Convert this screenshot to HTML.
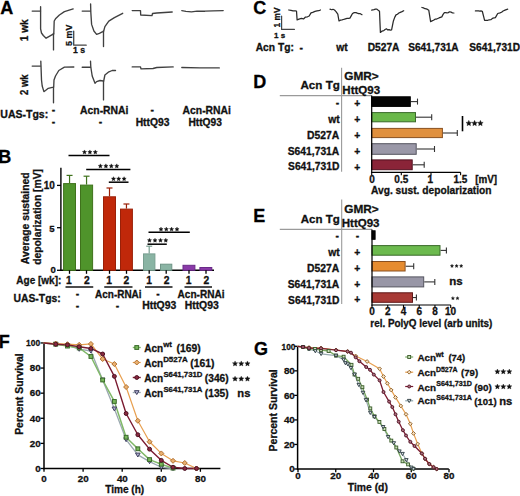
<!DOCTYPE html>
<html><head><meta charset="utf-8"><style>
html,body{margin:0;padding:0;background:#fff;width:520px;height:496px;overflow:hidden}
svg{display:block;font-family:"Liberation Sans",sans-serif}
</style></head><body>
<svg width="520" height="496" viewBox="0 0 520 496">
<rect width="520" height="496" fill="#fff"/>
<text transform="translate(0.32,13.90) scale(1.000,1)" font-size="18" font-weight="bold" fill="#000" stroke="#000" stroke-width="0.3" >A</text>
<text transform="translate(27.60,41.31) rotate(-90) scale(0.994,1)" font-size="10.2" font-weight="bold" fill="#111" stroke="#111" stroke-width="0.3">1 wk</text>
<text transform="translate(27.60,94.98) rotate(-90) scale(0.934,1)" font-size="10.2" font-weight="bold" fill="#111" stroke="#111" stroke-width="0.3">2 wk</text>
<polyline points="32.20,11.10 40.50,11.10" fill="none" stroke="#404040" stroke-width="1.35" stroke-linejoin="round" stroke-linecap="round" />
<polyline points="40.60,6.70 40.60,28.80 41.50,33.00 43.30,35.50 46.10,38.20 48.80,36.60 52.70,34.40 53.50,33.30 53.50,49.90" fill="none" stroke="#404040" stroke-width="1.35" stroke-linejoin="round" stroke-linecap="round" />
<polyline points="53.80,34.00 54.20,21.00 55.50,18.80 59.40,15.00 64.40,11.60 73.20,8.90" fill="none" stroke="#404040" stroke-width="1.35" stroke-linejoin="round" stroke-linecap="round" />
<polyline points="82.20,11.10 90.50,11.10" fill="none" stroke="#404040" stroke-width="1.35" stroke-linejoin="round" stroke-linecap="round" />
<polyline points="90.60,3.90 90.80,12.00 91.60,24.40 93.90,31.00 96.60,34.40 99.40,33.30 102.70,31.60 103.50,31.00 103.50,46.60" fill="none" stroke="#404040" stroke-width="1.35" stroke-linejoin="round" stroke-linecap="round" />
<polyline points="103.70,31.00 104.90,26.60 108.80,21.10 114.40,17.70 122.70,13.30" fill="none" stroke="#404040" stroke-width="1.35" stroke-linejoin="round" stroke-linecap="round" />
<polyline points="132.20,10.60 140.50,10.60 140.70,15.00 152.00,15.60 152.50,13.50 156.80,13.00 172.20,12.00" fill="none" stroke="#404040" stroke-width="1.35" stroke-linejoin="round" stroke-linecap="round" />
<polyline points="181.80,10.60 186.00,11.30 191.50,11.90 197.00,11.20 205.00,11.20 213.00,10.80 223.20,10.60" fill="none" stroke="#404040" stroke-width="1.35" stroke-linejoin="round" stroke-linecap="round" />
<polyline points="32.20,66.10 40.50,66.10" fill="none" stroke="#404040" stroke-width="1.35" stroke-linejoin="round" stroke-linecap="round" />
<polyline points="40.80,61.10 41.00,66.00 41.50,80.00 42.20,86.00 43.90,91.60 45.50,90.50 48.30,88.30 53.30,87.20 53.50,87.00 53.50,102.70" fill="none" stroke="#404040" stroke-width="1.35" stroke-linejoin="round" stroke-linecap="round" />
<polyline points="53.70,87.00 54.00,80.00 55.50,76.00 58.80,70.50 64.40,67.20 73.80,67.00" fill="none" stroke="#404040" stroke-width="1.35" stroke-linejoin="round" stroke-linecap="round" />
<polyline points="82.20,67.20 90.50,67.20" fill="none" stroke="#404040" stroke-width="1.35" stroke-linejoin="round" stroke-linecap="round" />
<polyline points="90.50,61.10 90.80,67.00 92.20,76.00 95.00,83.30 96.60,81.60 100.00,80.50 103.30,81.00 103.50,81.00 103.50,99.90" fill="none" stroke="#404040" stroke-width="1.35" stroke-linejoin="round" stroke-linecap="round" />
<polyline points="103.70,81.00 104.90,75.00 108.30,72.20 112.20,70.50 115.50,70.50" fill="none" stroke="#404040" stroke-width="1.35" stroke-linejoin="round" stroke-linecap="round" />
<polyline points="132.20,66.90 140.50,66.90 141.00,68.80 153.00,68.50 156.80,67.50 173.20,66.90" fill="none" stroke="#404040" stroke-width="1.35" stroke-linejoin="round" stroke-linecap="round" />
<polyline points="181.80,67.50 200.00,67.80 219.30,67.90" fill="none" stroke="#404040" stroke-width="1.35" stroke-linejoin="round" stroke-linecap="round" />
<polyline points="73.70,31.10 73.70,45.20 86.20,45.20" fill="none" stroke="#444" stroke-width="1.3" stroke-linejoin="round" stroke-linecap="round" />
<text transform="translate(72.20,45.92) rotate(-90) scale(0.959,1)" font-size="9.3" font-weight="bold" fill="#111" stroke="#111" stroke-width="0.3">5 mV</text>
<text transform="translate(73.07,52.60) scale(1.000,1)" font-size="8.6" font-weight="bold" fill="#111" stroke="#111" stroke-width="0.3" >1 s</text>
<text transform="translate(0.32,117.80) scale(1.021,1)" font-size="10.3" font-weight="bold" fill="#111" stroke="#111" stroke-width="0.3" >UAS-Tgs:</text>
<text transform="translate(51.67,113.28) scale(1.000,1)" font-size="10.3" font-weight="bold" fill="#111" stroke="#111" stroke-width="0.3">-</text>
<text transform="translate(51.67,124.58) scale(1.000,1)" font-size="10.3" font-weight="bold" fill="#111" stroke="#111" stroke-width="0.3">-</text>
<text transform="translate(80.09,113.60) scale(1.007,1)" font-size="10.3" font-weight="bold" fill="#111" stroke="#111" stroke-width="0.3" >Acn-RNAi</text>
<text transform="translate(98.87,124.58) scale(1.000,1)" font-size="10.3" font-weight="bold" fill="#111" stroke="#111" stroke-width="0.3">-</text>
<text transform="translate(150.47,112.68) scale(1.000,1)" font-size="10.3" font-weight="bold" fill="#111" stroke="#111" stroke-width="0.3">-</text>
<text transform="translate(135.68,125.60) scale(1.000,1)" font-size="10.3" font-weight="bold" fill="#111" stroke="#111" stroke-width="0.3" >HttQ93</text>
<text transform="translate(182.59,113.60) scale(1.007,1)" font-size="10.3" font-weight="bold" fill="#111" stroke="#111" stroke-width="0.3" >Acn-RNAi</text>
<text transform="translate(188.44,125.60) scale(0.992,1)" font-size="10.3" font-weight="bold" fill="#111" stroke="#111" stroke-width="0.3" >HttQ93</text>
<text transform="translate(253.13,14.40) scale(1.000,1)" font-size="18" font-weight="bold" fill="#000" stroke="#000" stroke-width="0.3" >C</text>
<text transform="translate(279.60,27.39) rotate(-90) scale(0.990,1)" font-size="8.4" font-weight="bold" fill="#111" stroke="#111" stroke-width="0.3">1 mV</text>
<polyline points="281.60,16.10 281.60,29.40 294.40,29.40" fill="none" stroke="#444" stroke-width="1.2" stroke-linejoin="round" stroke-linecap="round" />
<text transform="translate(273.99,37.60) scale(1.000,1)" font-size="8.0" font-weight="bold" fill="#111" stroke="#111" stroke-width="0.3" >1 s</text>
<text transform="translate(255.69,50.50) scale(0.995,1)" font-size="10.3" font-weight="bold" fill="#111" stroke="#111" stroke-width="0.3" >Acn Tg:</text>
<text transform="translate(299.57,51.08) scale(1.000,1)" font-size="10.3" font-weight="bold" fill="#111" stroke="#111" stroke-width="0.3">-</text>
<text transform="translate(336.28,50.60) scale(1.000,1)" font-size="10.3" font-weight="bold" fill="#111" stroke="#111" stroke-width="0.3" >wt</text>
<text transform="translate(367.68,50.60) scale(0.993,1)" font-size="10.3" font-weight="bold" fill="#111" stroke="#111" stroke-width="0.3" >D527A</text>
<text transform="translate(408.15,50.60) scale(0.982,1)" font-size="10.3" font-weight="bold" fill="#111" stroke="#111" stroke-width="0.3" >S641,731A</text>
<text transform="translate(469.25,50.60) scale(0.985,1)" font-size="10.3" font-weight="bold" fill="#111" stroke="#111" stroke-width="0.3" >S641,731D</text>
<polyline points="288.80,10.00 291.00,10.38 293.00,10.89 295.40,10.93 296.50,11.00 297.10,19.89 299.00,19.14 301.40,18.37 303.50,18.92 305.50,17.05 307.50,16.78 309.20,15.97 311.00,12.93 312.70,12.39 315.00,11.45 317.00,10.94 318.75,10.74 320.50,10.00" fill="none" stroke="#2a2a2a" stroke-width="1.25" stroke-linejoin="round" stroke-linecap="round" />
<polyline points="330.00,9.20 331.50,9.74 333.00,9.31 334.50,10.04 336.00,11.57 337.80,14.06 339.00,20.99 340.50,20.09 342.00,19.92 343.35,19.52 344.70,19.09 347.00,18.42 348.45,18.42 349.90,18.08 351.20,15.85 352.50,13.54 354.20,12.59 356.00,12.65 357.30,13.14 358.60,13.55 360.30,13.74 362.00,14.70" fill="none" stroke="#2a2a2a" stroke-width="1.25" stroke-linejoin="round" stroke-linecap="round" />
<polyline points="371.70,10.11 374.00,9.65 375.45,9.16 376.90,9.11 378.20,10.24 379.50,11.20 380.40,32.42 382.10,31.06 383.80,30.67 385.10,29.44 386.40,28.81 387.70,29.90 389.00,29.57 390.30,30.07 391.60,29.77 393.40,20.95 394.70,17.37 396.00,14.85 397.43,14.24 398.87,12.99 400.30,12.37 402.00,11.59 403.70,10.70" fill="none" stroke="#2a2a2a" stroke-width="1.25" stroke-linejoin="round" stroke-linecap="round" />
<polyline points="421.90,7.51 423.45,7.86 425.00,8.69 426.27,8.95 427.53,9.39 428.80,10.29 430.60,21.56 432.05,20.88 433.50,20.29 435.05,19.19 436.60,19.04 439.00,17.95 440.40,17.39 441.80,16.87 443.10,14.39 444.40,12.57 445.70,12.66 447.00,12.84 448.30,12.63 449.60,11.76 451.03,12.19 452.47,12.84 453.90,13.00" fill="none" stroke="#2a2a2a" stroke-width="1.25" stroke-linejoin="round" stroke-linecap="round" />
<polyline points="475.40,10.94 476.95,10.92 478.50,10.82 479.77,11.09 481.03,10.96 482.30,11.26 484.60,20.28 486.05,20.36 487.50,20.49 489.15,19.76 490.80,19.64 493.00,18.07 495.40,17.67 497.70,13.52 500.00,12.85 501.55,12.23 503.10,10.96 505.00,10.19 506.35,9.61 507.70,9.20" fill="none" stroke="#2a2a2a" stroke-width="1.25" stroke-linejoin="round" stroke-linecap="round" />
<text transform="translate(-1.81,163.00) scale(1.000,1)" font-size="18" font-weight="bold" fill="#000" stroke="#000" stroke-width="0.3" >B</text>
<text transform="translate(29.30,264.21) rotate(-90) scale(1.008,1)" font-size="10.3" font-weight="bold" fill="#111" stroke="#111" stroke-width="0.3">Average sustained</text>
<text transform="translate(40.80,264.86) rotate(-90) scale(1.005,1)" font-size="10.3" font-weight="bold" fill="#111" stroke="#111" stroke-width="0.3">depolarization [mV]</text>
<line x1="60.90" y1="167.70" x2="60.90" y2="270.90" stroke="#000" stroke-width="1.4" />
<line x1="60.20" y1="270.30" x2="214.00" y2="270.30" stroke="#000" stroke-width="1.4" />
<line x1="57.00" y1="185.40" x2="60.90" y2="185.40" stroke="#000" stroke-width="1.3" />
<line x1="57.00" y1="227.70" x2="60.90" y2="227.70" stroke="#000" stroke-width="1.3" />
<line x1="57.00" y1="270.30" x2="60.90" y2="270.30" stroke="#000" stroke-width="1.3" />
<text transform="translate(43.67,188.60) scale(1.000,1)" font-size="10.0" font-weight="bold" fill="#111" stroke="#111" stroke-width="0.3" >10</text>
<text transform="translate(49.36,231.60) scale(1.000,1)" font-size="9.6" font-weight="bold" fill="#111" stroke="#111" stroke-width="0.3" >5</text>
<text transform="translate(50.54,273.40) scale(1.000,1)" font-size="9.6" font-weight="bold" fill="#111" stroke="#111" stroke-width="0.3" >0</text>
<line x1="69.55" y1="183.10" x2="69.55" y2="175.40" stroke="#3f721c" stroke-width="1.2" />
<line x1="66.55" y1="175.40" x2="72.55" y2="175.40" stroke="#3f721c" stroke-width="1.2" />
<rect x="63.60" y="183.60" width="11.90" height="86.70" fill="#4f942b" stroke="#3f721c" stroke-width="1"/>
<line x1="86.55" y1="184.60" x2="86.55" y2="176.20" stroke="#3f721c" stroke-width="1.2" />
<line x1="83.55" y1="176.20" x2="89.55" y2="176.20" stroke="#3f721c" stroke-width="1.2" />
<rect x="80.50" y="185.10" width="12.10" height="85.20" fill="#4f942b" stroke="#3f721c" stroke-width="1"/>
<line x1="109.50" y1="196.30" x2="109.50" y2="188.00" stroke="#9a2008" stroke-width="1.2" />
<line x1="106.50" y1="188.00" x2="112.50" y2="188.00" stroke="#9a2008" stroke-width="1.2" />
<rect x="103.50" y="196.80" width="12.00" height="73.50" fill="#c0280a" stroke="#9a2008" stroke-width="1"/>
<line x1="126.45" y1="208.60" x2="126.45" y2="204.00" stroke="#9a2008" stroke-width="1.2" />
<line x1="123.45" y1="204.00" x2="129.45" y2="204.00" stroke="#9a2008" stroke-width="1.2" />
<rect x="120.50" y="209.10" width="11.90" height="61.20" fill="#c0280a" stroke="#9a2008" stroke-width="1"/>
<line x1="149.20" y1="253.40" x2="149.20" y2="246.20" stroke="#789e90" stroke-width="1.2" />
<line x1="146.20" y1="246.20" x2="152.20" y2="246.20" stroke="#789e90" stroke-width="1.2" />
<rect x="143.50" y="253.90" width="11.40" height="16.40" fill="#8ab4a4" stroke="#789e90" stroke-width="1"/>
<rect x="160.50" y="264.20" width="11.30" height="6.10" fill="#8ab4a4" stroke="#6e9486" stroke-width="1"/>
<rect x="183.00" y="265.30" width="11.90" height="5.00" fill="#8a3aa8" stroke="#6a2a88" stroke-width="1"/>
<rect x="199.90" y="267.50" width="11.90" height="2.80" fill="#8a3aa8" stroke="#6a2a88" stroke-width="1"/>
<line x1="69.50" y1="270.30" x2="69.50" y2="273.80" stroke="#000" stroke-width="1.3" />
<line x1="86.50" y1="270.30" x2="86.50" y2="273.80" stroke="#000" stroke-width="1.3" />
<line x1="109.50" y1="270.30" x2="109.50" y2="273.80" stroke="#000" stroke-width="1.3" />
<line x1="126.50" y1="270.30" x2="126.50" y2="273.80" stroke="#000" stroke-width="1.3" />
<line x1="149.20" y1="270.30" x2="149.20" y2="273.80" stroke="#000" stroke-width="1.3" />
<line x1="166.20" y1="270.30" x2="166.20" y2="273.80" stroke="#000" stroke-width="1.3" />
<line x1="189.00" y1="270.30" x2="189.00" y2="273.80" stroke="#000" stroke-width="1.3" />
<line x1="206.00" y1="270.30" x2="206.00" y2="273.80" stroke="#000" stroke-width="1.3" />
<line x1="68.50" y1="155.40" x2="109.50" y2="155.40" stroke="#000" stroke-width="1.5" />
<polygon points="84.50,149.95 85.13,151.33 86.64,151.50 85.53,152.53 85.82,154.02 84.50,153.28 83.18,154.02 83.47,152.53 82.36,151.50 83.87,151.33" fill="#111" stroke="#111" stroke-width="0.35" stroke-linejoin="round"/>
<polygon points="89.90,149.95 90.53,151.33 92.04,151.50 90.93,152.53 91.22,154.02 89.90,153.28 88.58,154.02 88.87,152.53 87.76,151.50 89.27,151.33" fill="#111" stroke="#111" stroke-width="0.35" stroke-linejoin="round"/>
<polygon points="95.30,149.95 95.93,151.33 97.44,151.50 96.33,152.53 96.62,154.02 95.30,153.28 93.98,154.02 94.27,152.53 93.16,151.50 94.67,151.33" fill="#111" stroke="#111" stroke-width="0.35" stroke-linejoin="round"/>
<line x1="86.20" y1="169.50" x2="130.40" y2="169.50" stroke="#000" stroke-width="1.5" />
<polygon points="100.40,163.85 101.03,165.23 102.54,165.40 101.43,166.43 101.72,167.92 100.40,167.18 99.08,167.92 99.37,166.43 98.26,165.40 99.77,165.23" fill="#111" stroke="#111" stroke-width="0.35" stroke-linejoin="round"/>
<polygon points="105.90,163.85 106.53,165.23 108.04,165.40 106.93,166.43 107.22,167.92 105.90,167.18 104.58,167.92 104.87,166.43 103.76,165.40 105.27,165.23" fill="#111" stroke="#111" stroke-width="0.35" stroke-linejoin="round"/>
<polygon points="111.30,163.85 111.93,165.23 113.44,165.40 112.33,166.43 112.62,167.92 111.30,167.18 109.98,167.92 110.27,166.43 109.16,165.40 110.67,165.23" fill="#111" stroke="#111" stroke-width="0.35" stroke-linejoin="round"/>
<polygon points="116.80,163.85 117.43,165.23 118.94,165.40 117.83,166.43 118.12,167.92 116.80,167.18 115.48,167.92 115.77,166.43 114.66,165.40 116.17,165.23" fill="#111" stroke="#111" stroke-width="0.35" stroke-linejoin="round"/>
<line x1="108.80" y1="182.20" x2="128.50" y2="182.20" stroke="#000" stroke-width="1.5" />
<polygon points="113.50,176.65 114.13,178.03 115.64,178.20 114.53,179.23 114.82,180.72 113.50,179.98 112.18,180.72 112.47,179.23 111.36,178.20 112.87,178.03" fill="#111" stroke="#111" stroke-width="0.35" stroke-linejoin="round"/>
<polygon points="118.70,176.65 119.33,178.03 120.84,178.20 119.73,179.23 120.02,180.72 118.70,179.98 117.38,180.72 117.67,179.23 116.56,178.20 118.07,178.03" fill="#111" stroke="#111" stroke-width="0.35" stroke-linejoin="round"/>
<polygon points="124.10,176.65 124.73,178.03 126.24,178.20 125.13,179.23 125.42,180.72 124.10,179.98 122.78,180.72 123.07,179.23 121.96,178.20 123.47,178.03" fill="#111" stroke="#111" stroke-width="0.35" stroke-linejoin="round"/>
<line x1="148.50" y1="232.20" x2="189.80" y2="232.20" stroke="#000" stroke-width="1.5" />
<polygon points="161.00,227.10 161.62,228.45 163.09,228.62 162.00,229.63 162.29,231.08 161.00,230.36 159.71,231.08 160.00,229.63 158.91,228.62 160.38,228.45" fill="#111" stroke="#111" stroke-width="0.35" stroke-linejoin="round"/>
<polygon points="166.30,227.10 166.92,228.45 168.39,228.62 167.30,229.63 167.59,231.08 166.30,230.36 165.01,231.08 165.30,229.63 164.21,228.62 165.68,228.45" fill="#111" stroke="#111" stroke-width="0.35" stroke-linejoin="round"/>
<polygon points="171.60,227.10 172.22,228.45 173.69,228.62 172.60,229.63 172.89,231.08 171.60,230.36 170.31,231.08 170.60,229.63 169.51,228.62 170.98,228.45" fill="#111" stroke="#111" stroke-width="0.35" stroke-linejoin="round"/>
<polygon points="177.00,227.10 177.62,228.45 179.09,228.62 178.00,229.63 178.29,231.08 177.00,230.36 175.71,231.08 176.00,229.63 174.91,228.62 176.38,228.45" fill="#111" stroke="#111" stroke-width="0.35" stroke-linejoin="round"/>
<line x1="147.50" y1="244.20" x2="166.80" y2="244.20" stroke="#000" stroke-width="1.5" />
<polygon points="149.50,238.20 150.12,239.55 151.59,239.72 150.50,240.73 150.79,242.18 149.50,241.46 148.21,242.18 148.50,240.73 147.41,239.72 148.88,239.55" fill="#111" stroke="#111" stroke-width="0.35" stroke-linejoin="round"/>
<polygon points="155.00,238.20 155.62,239.55 157.09,239.72 156.00,240.73 156.29,242.18 155.00,241.46 153.71,242.18 154.00,240.73 152.91,239.72 154.38,239.55" fill="#111" stroke="#111" stroke-width="0.35" stroke-linejoin="round"/>
<polygon points="160.50,238.20 161.12,239.55 162.59,239.72 161.50,240.73 161.79,242.18 160.50,241.46 159.21,242.18 159.50,240.73 158.41,239.72 159.88,239.55" fill="#111" stroke="#111" stroke-width="0.35" stroke-linejoin="round"/>
<polygon points="165.80,238.20 166.42,239.55 167.89,239.72 166.80,240.73 167.09,242.18 165.80,241.46 164.51,242.18 164.80,240.73 163.71,239.72 165.18,239.55" fill="#111" stroke="#111" stroke-width="0.35" stroke-linejoin="round"/>
<text transform="translate(16.35,284.00) scale(0.972,1)" font-size="10.3" font-weight="bold" fill="#111" stroke="#111" stroke-width="0.3" >Age [wk]:</text>
<text transform="translate(66.04,284.05) scale(1.000,1)" font-size="10.3" font-weight="bold" fill="#111" stroke="#111" stroke-width="0.3">1</text>
<text transform="translate(84.07,284.11) scale(1.000,1)" font-size="10.3" font-weight="bold" fill="#111" stroke="#111" stroke-width="0.3">2</text>
<text transform="translate(106.24,284.05) scale(1.000,1)" font-size="10.3" font-weight="bold" fill="#111" stroke="#111" stroke-width="0.3">1</text>
<text transform="translate(123.47,284.11) scale(1.000,1)" font-size="10.3" font-weight="bold" fill="#111" stroke="#111" stroke-width="0.3">2</text>
<text transform="translate(146.34,284.05) scale(1.000,1)" font-size="10.3" font-weight="bold" fill="#111" stroke="#111" stroke-width="0.3">1</text>
<text transform="translate(163.67,284.11) scale(1.000,1)" font-size="10.3" font-weight="bold" fill="#111" stroke="#111" stroke-width="0.3">2</text>
<text transform="translate(185.69,284.05) scale(1.000,1)" font-size="10.3" font-weight="bold" fill="#111" stroke="#111" stroke-width="0.3">1</text>
<text transform="translate(203.42,284.11) scale(1.000,1)" font-size="10.3" font-weight="bold" fill="#111" stroke="#111" stroke-width="0.3">2</text>
<line x1="65.50" y1="287.00" x2="93.25" y2="287.00" stroke="#000" stroke-width="1.4" />
<line x1="104.25" y1="287.00" x2="132.50" y2="287.00" stroke="#000" stroke-width="1.4" />
<line x1="145.00" y1="287.00" x2="172.50" y2="287.00" stroke="#000" stroke-width="1.4" />
<line x1="184.50" y1="287.00" x2="212.00" y2="287.00" stroke="#000" stroke-width="1.4" />
<text transform="translate(13.48,301.80) scale(1.006,1)" font-size="10.3" font-weight="bold" fill="#111" stroke="#111" stroke-width="0.3" >UAS-Tgs:</text>
<text transform="translate(75.77,297.18) scale(1.000,1)" font-size="10.3" font-weight="bold" fill="#111" stroke="#111" stroke-width="0.3">-</text>
<text transform="translate(75.77,309.18) scale(1.000,1)" font-size="10.3" font-weight="bold" fill="#111" stroke="#111" stroke-width="0.3">-</text>
<text transform="translate(95.10,298.40) scale(0.968,1)" font-size="10.3" font-weight="bold" fill="#111" stroke="#111" stroke-width="0.3" >Acn-RNAi</text>
<text transform="translate(115.77,309.18) scale(1.000,1)" font-size="10.3" font-weight="bold" fill="#111" stroke="#111" stroke-width="0.3">-</text>
<text transform="translate(156.27,297.18) scale(1.000,1)" font-size="10.3" font-weight="bold" fill="#111" stroke="#111" stroke-width="0.3">-</text>
<text transform="translate(142.17,308.60) scale(1.011,1)" font-size="10.3" font-weight="bold" fill="#111" stroke="#111" stroke-width="0.3" >HttQ93</text>
<text transform="translate(177.60,298.40) scale(0.978,1)" font-size="10.3" font-weight="bold" fill="#111" stroke="#111" stroke-width="0.3" >Acn-RNAi</text>
<text transform="translate(184.67,308.60) scale(1.011,1)" font-size="10.3" font-weight="bold" fill="#111" stroke="#111" stroke-width="0.3" >HttQ93</text>
<text transform="translate(253.29,87.90) scale(1.000,1)" font-size="18" font-weight="bold" fill="#000" stroke="#000" stroke-width="0.3" >D</text>
<line x1="341.60" y1="67.70" x2="341.60" y2="171.70" stroke="#9a9a9a" stroke-width="1.1" />
<line x1="279.80" y1="95.60" x2="371.70" y2="95.60" stroke="#9a9a9a" stroke-width="1.1" />
<text transform="translate(300.46,88.80) scale(1.003,1)" font-size="11.6" font-weight="bold" fill="#111" stroke="#111" stroke-width="0.3" >Acn Tg</text>
<text transform="translate(344.28,80.00) scale(1.020,1)" font-size="11.6" font-weight="bold" fill="#111" stroke="#111" stroke-width="0.3" >GMR&gt;</text>
<text transform="translate(342.30,93.90) scale(0.996,1)" font-size="11.6" font-weight="bold" fill="#111" stroke="#111" stroke-width="0.3" >HttQ93</text>
<text transform="translate(335.87,106.48) scale(1.000,1)" font-size="10.3" font-weight="bold" fill="#111" stroke="#111" stroke-width="0.3">-</text>
<text transform="translate(328.23,122.70) scale(1.000,1)" font-size="10.3" font-weight="bold" fill="#111" stroke="#111" stroke-width="0.3" >wt</text>
<text transform="translate(307.08,138.70) scale(1.006,1)" font-size="10.3" font-weight="bold" fill="#111" stroke="#111" stroke-width="0.3" >D527A</text>
<text transform="translate(287.74,154.50) scale(1.001,1)" font-size="10.3" font-weight="bold" fill="#111" stroke="#111" stroke-width="0.3" >S641,731A</text>
<text transform="translate(288.04,170.00) scale(0.998,1)" font-size="10.3" font-weight="bold" fill="#111" stroke="#111" stroke-width="0.3" >S641,731D</text>
<text transform="translate(354.19,107.30) scale(1.000,1)" font-size="10.3" font-weight="bold" fill="#111" stroke="#111" stroke-width="0.3">+</text>
<text transform="translate(354.19,123.10) scale(1.000,1)" font-size="10.3" font-weight="bold" fill="#111" stroke="#111" stroke-width="0.3">+</text>
<text transform="translate(354.19,139.00) scale(1.000,1)" font-size="10.3" font-weight="bold" fill="#111" stroke="#111" stroke-width="0.3">+</text>
<text transform="translate(354.19,155.00) scale(1.000,1)" font-size="10.3" font-weight="bold" fill="#111" stroke="#111" stroke-width="0.3">+</text>
<text transform="translate(354.19,170.90) scale(1.000,1)" font-size="10.3" font-weight="bold" fill="#111" stroke="#111" stroke-width="0.3">+</text>
<line x1="410.80" y1="101.60" x2="417.50" y2="101.60" stroke="#333" stroke-width="1.1" />
<line x1="417.50" y1="98.60" x2="417.50" y2="104.60" stroke="#333" stroke-width="1.1" />
<rect x="371.70" y="96.80" width="38.60" height="9.60" fill="#050505" stroke="#000" stroke-width="1"/>
<line x1="416.00" y1="117.20" x2="431.70" y2="117.20" stroke="#333" stroke-width="1.1" />
<line x1="431.70" y1="114.20" x2="431.70" y2="120.20" stroke="#333" stroke-width="1.1" />
<rect x="371.70" y="112.60" width="43.80" height="9.20" fill="#6ab84a" stroke="#3a6a2a" stroke-width="1"/>
<line x1="442.90" y1="133.00" x2="457.30" y2="133.00" stroke="#333" stroke-width="1.1" />
<line x1="457.30" y1="130.00" x2="457.30" y2="136.00" stroke="#333" stroke-width="1.1" />
<rect x="371.70" y="128.40" width="70.70" height="9.20" fill="#e0903e" stroke="#8a5020" stroke-width="1"/>
<line x1="416.70" y1="149.00" x2="434.50" y2="149.00" stroke="#333" stroke-width="1.1" />
<line x1="434.50" y1="146.00" x2="434.50" y2="152.00" stroke="#333" stroke-width="1.1" />
<rect x="371.70" y="143.70" width="44.50" height="10.60" fill="#9a98a8" stroke="#555560" stroke-width="1"/>
<line x1="412.70" y1="164.80" x2="424.20" y2="164.80" stroke="#333" stroke-width="1.1" />
<line x1="424.20" y1="161.80" x2="424.20" y2="167.80" stroke="#333" stroke-width="1.1" />
<rect x="371.70" y="159.90" width="40.50" height="9.80" fill="#8a2438" stroke="#501020" stroke-width="1"/>
<line x1="371.70" y1="95.60" x2="371.70" y2="172.80" stroke="#000" stroke-width="1.2" />
<line x1="371.10" y1="172.30" x2="460.60" y2="172.30" stroke="#000" stroke-width="1.2" />
<line x1="371.70" y1="172.30" x2="371.70" y2="175.30" stroke="#000" stroke-width="1.1" />
<line x1="401.30" y1="172.30" x2="401.30" y2="175.30" stroke="#000" stroke-width="1.1" />
<line x1="431.00" y1="172.30" x2="431.00" y2="175.30" stroke="#000" stroke-width="1.1" />
<line x1="460.60" y1="172.30" x2="460.60" y2="175.30" stroke="#000" stroke-width="1.1" />
<text transform="translate(369.33,182.70) scale(1.000,1)" font-size="10.0" font-weight="bold" fill="#111" stroke="#111" stroke-width="0.3" >0</text>
<text transform="translate(394.33,182.70) scale(1.000,1)" font-size="10.0" font-weight="bold" fill="#111" stroke="#111" stroke-width="0.3" >0.5</text>
<text transform="translate(427.57,182.70) scale(1.000,1)" font-size="10.0" font-weight="bold" fill="#111" stroke="#111" stroke-width="0.3" >1</text>
<text transform="translate(453.45,182.70) scale(1.000,1)" font-size="10.0" font-weight="bold" fill="#111" stroke="#111" stroke-width="0.3" >1.5</text>
<text transform="translate(475.21,182.70) scale(0.986,1)" font-size="10.0" font-weight="bold" fill="#111" stroke="#111" stroke-width="0.3" >[mV]</text>
<text transform="translate(370.99,193.90) scale(0.994,1)" font-size="10.3" font-weight="bold" fill="#111" stroke="#111" stroke-width="0.3" >Avg. sust. depolarization</text>
<line x1="462.50" y1="116.00" x2="462.50" y2="131.30" stroke="#000" stroke-width="1.6" />
<polygon points="468.80,120.35 469.63,122.15 471.61,122.39 470.15,123.74 470.53,125.69 468.80,124.72 467.07,125.69 467.45,123.74 465.99,122.39 467.97,122.15" fill="#111" stroke="#111" stroke-width="0.35" stroke-linejoin="round"/>
<polygon points="474.60,120.35 475.43,122.15 477.41,122.39 475.95,123.74 476.33,125.69 474.60,124.72 472.87,125.69 473.25,123.74 471.79,122.39 473.77,122.15" fill="#111" stroke="#111" stroke-width="0.35" stroke-linejoin="round"/>
<polygon points="480.40,120.35 481.23,122.15 483.21,122.39 481.75,123.74 482.13,125.69 480.40,124.72 478.67,125.69 479.05,123.74 477.59,122.39 479.57,122.15" fill="#111" stroke="#111" stroke-width="0.35" stroke-linejoin="round"/>
<text transform="translate(253.14,221.70) scale(1.000,1)" font-size="18" font-weight="bold" fill="#000" stroke="#000" stroke-width="0.3" >E</text>
<line x1="341.70" y1="199.50" x2="341.70" y2="304.10" stroke="#9a9a9a" stroke-width="1.1" />
<line x1="279.80" y1="229.40" x2="372.00" y2="229.40" stroke="#9a9a9a" stroke-width="1.1" />
<text transform="translate(344.28,213.30) scale(1.020,1)" font-size="11.6" font-weight="bold" fill="#111" stroke="#111" stroke-width="0.3" >GMR&gt;</text>
<text transform="translate(300.76,223.20) scale(0.993,1)" font-size="11.6" font-weight="bold" fill="#111" stroke="#111" stroke-width="0.3" >Acn Tg</text>
<text transform="translate(341.70,227.00) scale(0.996,1)" font-size="11.6" font-weight="bold" fill="#111" stroke="#111" stroke-width="0.3" >HttQ93</text>
<text transform="translate(335.57,239.08) scale(1.000,1)" font-size="10.3" font-weight="bold" fill="#111" stroke="#111" stroke-width="0.3">-</text>
<text transform="translate(355.87,239.08) scale(1.000,1)" font-size="10.3" font-weight="bold" fill="#111" stroke="#111" stroke-width="0.3">-</text>
<text transform="translate(328.23,255.80) scale(1.000,1)" font-size="10.3" font-weight="bold" fill="#111" stroke="#111" stroke-width="0.3" >wt</text>
<text transform="translate(307.08,272.30) scale(1.006,1)" font-size="10.3" font-weight="bold" fill="#111" stroke="#111" stroke-width="0.3" >D527A</text>
<text transform="translate(287.74,287.80) scale(1.001,1)" font-size="10.3" font-weight="bold" fill="#111" stroke="#111" stroke-width="0.3" >S641,731A</text>
<text transform="translate(288.04,303.50) scale(0.998,1)" font-size="10.3" font-weight="bold" fill="#111" stroke="#111" stroke-width="0.3" >S641,731D</text>
<text transform="translate(354.19,255.80) scale(1.000,1)" font-size="10.3" font-weight="bold" fill="#111" stroke="#111" stroke-width="0.3">+</text>
<text transform="translate(354.19,271.90) scale(1.000,1)" font-size="10.3" font-weight="bold" fill="#111" stroke="#111" stroke-width="0.3">+</text>
<text transform="translate(354.19,288.00) scale(1.000,1)" font-size="10.3" font-weight="bold" fill="#111" stroke="#111" stroke-width="0.3">+</text>
<text transform="translate(354.19,303.40) scale(1.000,1)" font-size="10.3" font-weight="bold" fill="#111" stroke="#111" stroke-width="0.3">+</text>
<rect x="372.00" y="230.80" width="3.10" height="8.50" fill="#050505" stroke="#000" stroke-width="1"/>
<line x1="440.50" y1="250.40" x2="446.40" y2="250.40" stroke="#333" stroke-width="1.1" />
<line x1="446.40" y1="247.40" x2="446.40" y2="253.40" stroke="#333" stroke-width="1.1" />
<rect x="372.00" y="245.60" width="68.00" height="9.60" fill="#6cba4e" stroke="#3a6a2a" stroke-width="1"/>
<line x1="405.60" y1="266.25" x2="413.70" y2="266.25" stroke="#333" stroke-width="1.1" />
<line x1="413.70" y1="263.25" x2="413.70" y2="269.25" stroke="#333" stroke-width="1.1" />
<rect x="372.00" y="261.50" width="33.10" height="9.50" fill="#e68c30" stroke="#8a5020" stroke-width="1"/>
<line x1="424.20" y1="281.90" x2="434.80" y2="281.90" stroke="#333" stroke-width="1.1" />
<line x1="434.80" y1="278.90" x2="434.80" y2="284.90" stroke="#333" stroke-width="1.1" />
<rect x="372.00" y="276.90" width="51.70" height="10.00" fill="#9896a6" stroke="#555560" stroke-width="1"/>
<line x1="413.00" y1="297.55" x2="416.40" y2="297.55" stroke="#333" stroke-width="1.1" />
<line x1="416.40" y1="294.55" x2="416.40" y2="300.55" stroke="#333" stroke-width="1.1" />
<rect x="372.00" y="292.80" width="40.50" height="9.50" fill="#a83a36" stroke="#601818" stroke-width="1"/>
<line x1="372.00" y1="229.40" x2="372.00" y2="305.50" stroke="#000" stroke-width="1.2" />
<line x1="371.40" y1="305.00" x2="450.70" y2="305.00" stroke="#000" stroke-width="1.2" />
<line x1="372.00" y1="305.00" x2="372.00" y2="308.00" stroke="#000" stroke-width="1.1" />
<line x1="387.74" y1="305.00" x2="387.74" y2="308.00" stroke="#000" stroke-width="1.1" />
<line x1="403.48" y1="305.00" x2="403.48" y2="308.00" stroke="#000" stroke-width="1.1" />
<line x1="419.22" y1="305.00" x2="419.22" y2="308.00" stroke="#000" stroke-width="1.1" />
<line x1="434.96" y1="305.00" x2="434.96" y2="308.00" stroke="#000" stroke-width="1.1" />
<line x1="450.70" y1="305.00" x2="450.70" y2="308.00" stroke="#000" stroke-width="1.1" />
<text transform="translate(369.23,315.25) scale(1.000,1)" font-size="10.0" font-weight="bold" fill="#111" stroke="#111" stroke-width="0.3">0</text>
<text transform="translate(384.99,315.30) scale(1.000,1)" font-size="10.0" font-weight="bold" fill="#111" stroke="#111" stroke-width="0.3">2</text>
<text transform="translate(400.66,315.25) scale(1.000,1)" font-size="10.0" font-weight="bold" fill="#111" stroke="#111" stroke-width="0.3">4</text>
<text transform="translate(416.45,315.25) scale(1.000,1)" font-size="10.0" font-weight="bold" fill="#111" stroke="#111" stroke-width="0.3">6</text>
<text transform="translate(432.19,315.25) scale(1.000,1)" font-size="10.0" font-weight="bold" fill="#111" stroke="#111" stroke-width="0.3">8</text>
<text transform="translate(445.02,315.25) scale(1.000,1)" font-size="10.0" font-weight="bold" fill="#111" stroke="#111" stroke-width="0.3">10</text>
<text transform="translate(370.31,327.20) scale(0.991,1)" font-size="10.0" font-weight="bold" fill="#111" stroke="#111" stroke-width="0.3" >rel. PolyQ level (arb units)</text>
<polygon points="452.00,264.25 452.49,265.32 453.66,265.46 452.80,266.26 453.03,267.42 452.00,266.84 450.97,267.42 451.20,266.26 450.34,265.46 451.51,265.32" fill="#111" stroke="#111" stroke-width="0.35" stroke-linejoin="round"/>
<polygon points="456.60,264.25 457.09,265.32 458.26,265.46 457.40,266.26 457.63,267.42 456.60,266.84 455.57,267.42 455.80,266.26 454.94,265.46 456.11,265.32" fill="#111" stroke="#111" stroke-width="0.35" stroke-linejoin="round"/>
<polygon points="461.20,264.25 461.69,265.32 462.86,265.46 462.00,266.26 462.23,267.42 461.20,266.84 460.17,267.42 460.40,266.26 459.54,265.46 460.71,265.32" fill="#111" stroke="#111" stroke-width="0.35" stroke-linejoin="round"/>
<text transform="translate(449.31,284.60) scale(1.000,1)" font-size="11.5" font-weight="bold" fill="#111" stroke="#111" stroke-width="0.3" >ns</text>
<polygon points="452.90,296.60 453.38,297.64 454.52,297.77 453.68,298.55 453.90,299.68 452.90,299.12 451.90,299.68 452.12,298.55 451.28,297.77 452.42,297.64" fill="#111" stroke="#111" stroke-width="0.35" stroke-linejoin="round"/>
<polygon points="457.50,296.60 457.98,297.64 459.12,297.77 458.28,298.55 458.50,299.68 457.50,299.12 456.50,299.68 456.72,298.55 455.88,297.77 457.02,297.64" fill="#111" stroke="#111" stroke-width="0.35" stroke-linejoin="round"/>
<text transform="translate(-1.16,348.00) scale(1.000,1)" font-size="18" font-weight="bold" fill="#000" stroke="#000" stroke-width="0.3" >F</text>
<text transform="translate(22.60,434.83) rotate(-90) scale(1.011,1)" font-size="10.3" font-weight="bold" fill="#111" stroke="#111" stroke-width="0.3">Percent Survival</text>
<line x1="44.00" y1="342.50" x2="44.00" y2="469.20" stroke="#000" stroke-width="1.5" />
<line x1="43.30" y1="468.50" x2="220.40" y2="468.50" stroke="#000" stroke-width="1.5" />
<line x1="40.50" y1="468.50" x2="44.00" y2="468.50" stroke="#000" stroke-width="1.3" />
<line x1="40.50" y1="443.39" x2="44.00" y2="443.39" stroke="#000" stroke-width="1.3" />
<line x1="40.50" y1="418.28" x2="44.00" y2="418.28" stroke="#000" stroke-width="1.3" />
<line x1="40.50" y1="393.17" x2="44.00" y2="393.17" stroke="#000" stroke-width="1.3" />
<line x1="40.50" y1="368.06" x2="44.00" y2="368.06" stroke="#000" stroke-width="1.3" />
<line x1="40.50" y1="342.95" x2="44.00" y2="342.95" stroke="#000" stroke-width="1.3" />
<text transform="translate(26.10,346.25) scale(0.863,1)" font-size="9.8" font-weight="bold" fill="#111" stroke="#111" stroke-width="0.3" >100</text>
<text transform="translate(29.71,371.36) scale(1.000,1)" font-size="9.8" font-weight="bold" fill="#111" stroke="#111" stroke-width="0.3" >80</text>
<text transform="translate(29.71,396.47) scale(1.000,1)" font-size="9.8" font-weight="bold" fill="#111" stroke="#111" stroke-width="0.3" >60</text>
<text transform="translate(29.71,421.58) scale(1.000,1)" font-size="9.8" font-weight="bold" fill="#111" stroke="#111" stroke-width="0.3" >40</text>
<text transform="translate(29.71,446.69) scale(1.000,1)" font-size="9.8" font-weight="bold" fill="#111" stroke="#111" stroke-width="0.3" >20</text>
<text transform="translate(35.15,471.80) scale(1.000,1)" font-size="9.8" font-weight="bold" fill="#111" stroke="#111" stroke-width="0.3" >0</text>
<line x1="44.00" y1="468.50" x2="44.00" y2="471.80" stroke="#000" stroke-width="1.3" />
<text transform="translate(41.28,482.48) scale(1.000,1)" font-size="9.8" font-weight="bold" fill="#111" stroke="#111" stroke-width="0.3">0</text>
<line x1="83.10" y1="468.50" x2="83.10" y2="471.80" stroke="#000" stroke-width="1.3" />
<text transform="translate(77.69,482.48) scale(1.000,1)" font-size="9.8" font-weight="bold" fill="#111" stroke="#111" stroke-width="0.3">20</text>
<line x1="122.20" y1="468.50" x2="122.20" y2="471.80" stroke="#000" stroke-width="1.3" />
<text transform="translate(116.88,482.48) scale(1.000,1)" font-size="9.8" font-weight="bold" fill="#111" stroke="#111" stroke-width="0.3">40</text>
<line x1="161.30" y1="468.50" x2="161.30" y2="471.80" stroke="#000" stroke-width="1.3" />
<text transform="translate(155.89,482.48) scale(1.000,1)" font-size="9.8" font-weight="bold" fill="#111" stroke="#111" stroke-width="0.3">60</text>
<line x1="200.40" y1="468.50" x2="200.40" y2="471.80" stroke="#000" stroke-width="1.3" />
<text transform="translate(195.01,482.48) scale(1.000,1)" font-size="9.8" font-weight="bold" fill="#111" stroke="#111" stroke-width="0.3">80</text>
<text transform="translate(105.25,492.60) scale(0.980,1)" font-size="10.3" font-weight="bold" fill="#111" stroke="#111" stroke-width="0.3" >Time (h)</text>
<polyline points="44.00,342.95 55.73,344.21 67.46,345.46 79.19,349.23 90.92,350.99 102.65,379.99 114.38,408.86 126.11,439.62 137.84,454.94 149.57,461.59 161.30,467.24 173.03,468.50" fill="none" stroke="#9aa8b0" stroke-width="1.3" stroke-linejoin="round" stroke-linecap="round" />
<polyline points="44.00,342.95 55.73,344.21 67.46,346.09 79.19,347.97 90.92,356.51 102.65,379.99 114.38,401.46 126.11,437.24 137.84,448.79 149.57,459.59 161.30,464.23 173.03,468.12" fill="none" stroke="#80b868" stroke-width="1.5" stroke-linejoin="round" stroke-linecap="round" />
<polyline points="44.00,342.95 55.73,343.58 67.46,344.21 79.19,344.83 90.92,343.95 102.65,359.02 114.38,364.04 126.11,387.02 137.84,420.79 149.57,441.76 161.30,453.43 173.03,460.84 184.76,462.98 196.49,468.50" fill="none" stroke="#e8a050" stroke-width="1.2" stroke-linejoin="round" stroke-linecap="round" />
<polyline points="44.00,342.95 55.73,344.21 67.46,344.83 79.19,346.72 90.92,348.47 102.65,354.00 114.38,376.35 126.11,413.51 137.84,434.73 149.57,449.17 161.30,460.34 173.03,467.24 184.76,468.50 196.49,468.50" fill="none" stroke="#7a1a30" stroke-width="1.4" stroke-linejoin="round" stroke-linecap="round" />
<polygon points="53.43,342.37 58.03,342.37 55.73,346.28" fill="#b0b0d0" stroke="#404060" stroke-width="1"/>
<polygon points="65.16,343.62 69.76,343.62 67.46,347.53" fill="#b0b0d0" stroke="#404060" stroke-width="1"/>
<polygon points="76.89,347.39 81.49,347.39 79.19,351.30" fill="#b0b0d0" stroke="#404060" stroke-width="1"/>
<polygon points="88.62,349.15 93.22,349.15 90.92,353.06" fill="#b0b0d0" stroke="#404060" stroke-width="1"/>
<polygon points="100.35,378.15 104.95,378.15 102.65,382.06" fill="#b0b0d0" stroke="#404060" stroke-width="1"/>
<polygon points="112.08,407.02 116.68,407.02 114.38,410.93" fill="#b0b0d0" stroke="#404060" stroke-width="1"/>
<polygon points="123.81,437.78 128.41,437.78 126.11,441.69" fill="#b0b0d0" stroke="#404060" stroke-width="1"/>
<polygon points="135.54,453.10 140.14,453.10 137.84,457.01" fill="#b0b0d0" stroke="#404060" stroke-width="1"/>
<polygon points="147.27,459.75 151.87,459.75 149.57,463.66" fill="#b0b0d0" stroke="#404060" stroke-width="1"/>
<polygon points="159.00,465.40 163.60,465.40 161.30,469.31" fill="#b0b0d0" stroke="#404060" stroke-width="1"/>
<polygon points="170.73,466.66 175.33,466.66 173.03,470.57" fill="#b0b0d0" stroke="#404060" stroke-width="1"/>
<rect x="53.83" y="342.31" width="3.80" height="3.80" fill="#78b85a" stroke="#3a6a2a" stroke-width="1"/>
<rect x="65.56" y="344.19" width="3.80" height="3.80" fill="#78b85a" stroke="#3a6a2a" stroke-width="1"/>
<rect x="77.29" y="346.07" width="3.80" height="3.80" fill="#78b85a" stroke="#3a6a2a" stroke-width="1"/>
<rect x="89.02" y="354.61" width="3.80" height="3.80" fill="#78b85a" stroke="#3a6a2a" stroke-width="1"/>
<rect x="100.75" y="378.09" width="3.80" height="3.80" fill="#78b85a" stroke="#3a6a2a" stroke-width="1"/>
<rect x="112.48" y="399.56" width="3.80" height="3.80" fill="#78b85a" stroke="#3a6a2a" stroke-width="1"/>
<rect x="124.21" y="435.34" width="3.80" height="3.80" fill="#78b85a" stroke="#3a6a2a" stroke-width="1"/>
<rect x="135.94" y="446.89" width="3.80" height="3.80" fill="#78b85a" stroke="#3a6a2a" stroke-width="1"/>
<rect x="147.67" y="457.69" width="3.80" height="3.80" fill="#78b85a" stroke="#3a6a2a" stroke-width="1"/>
<rect x="159.40" y="462.33" width="3.80" height="3.80" fill="#78b85a" stroke="#3a6a2a" stroke-width="1"/>
<rect x="171.13" y="466.22" width="3.80" height="3.80" fill="#78b85a" stroke="#3a6a2a" stroke-width="1"/>
<polygon points="55.73,341.08 58.23,343.58 55.73,346.08 53.23,343.58" fill="#eab070" stroke="#b07030" stroke-width="1"/>
<polygon points="67.46,341.71 69.96,344.21 67.46,346.71 64.96,344.21" fill="#eab070" stroke="#b07030" stroke-width="1"/>
<polygon points="79.19,342.33 81.69,344.83 79.19,347.33 76.69,344.83" fill="#eab070" stroke="#b07030" stroke-width="1"/>
<polygon points="90.92,341.45 93.42,343.95 90.92,346.45 88.42,343.95" fill="#eab070" stroke="#b07030" stroke-width="1"/>
<polygon points="102.65,356.52 105.15,359.02 102.65,361.52 100.15,359.02" fill="#eab070" stroke="#b07030" stroke-width="1"/>
<polygon points="114.38,361.54 116.88,364.04 114.38,366.54 111.88,364.04" fill="#eab070" stroke="#b07030" stroke-width="1"/>
<polygon points="126.11,384.52 128.61,387.02 126.11,389.52 123.61,387.02" fill="#eab070" stroke="#b07030" stroke-width="1"/>
<polygon points="137.84,418.29 140.34,420.79 137.84,423.29 135.34,420.79" fill="#eab070" stroke="#b07030" stroke-width="1"/>
<polygon points="149.57,439.26 152.07,441.76 149.57,444.26 147.07,441.76" fill="#eab070" stroke="#b07030" stroke-width="1"/>
<polygon points="161.30,450.93 163.80,453.43 161.30,455.93 158.80,453.43" fill="#eab070" stroke="#b07030" stroke-width="1"/>
<polygon points="173.03,458.34 175.53,460.84 173.03,463.34 170.53,460.84" fill="#eab070" stroke="#b07030" stroke-width="1"/>
<polygon points="184.76,460.48 187.26,462.98 184.76,465.48 182.26,462.98" fill="#eab070" stroke="#b07030" stroke-width="1"/>
<polygon points="196.49,466.00 198.99,468.50 196.49,471.00 193.99,468.50" fill="#eab070" stroke="#b07030" stroke-width="1"/>
<circle cx="55.73" cy="344.21" r="1.95" fill="#8a2a40" stroke="#4a1020" stroke-width="1"/>
<circle cx="67.46" cy="344.83" r="1.95" fill="#8a2a40" stroke="#4a1020" stroke-width="1"/>
<circle cx="79.19" cy="346.72" r="1.95" fill="#8a2a40" stroke="#4a1020" stroke-width="1"/>
<circle cx="90.92" cy="348.47" r="1.95" fill="#8a2a40" stroke="#4a1020" stroke-width="1"/>
<circle cx="102.65" cy="354.00" r="1.95" fill="#8a2a40" stroke="#4a1020" stroke-width="1"/>
<circle cx="114.38" cy="376.35" r="1.95" fill="#8a2a40" stroke="#4a1020" stroke-width="1"/>
<circle cx="126.11" cy="413.51" r="1.95" fill="#8a2a40" stroke="#4a1020" stroke-width="1"/>
<circle cx="137.84" cy="434.73" r="1.95" fill="#8a2a40" stroke="#4a1020" stroke-width="1"/>
<circle cx="149.57" cy="449.17" r="1.95" fill="#8a2a40" stroke="#4a1020" stroke-width="1"/>
<circle cx="161.30" cy="460.34" r="1.95" fill="#8a2a40" stroke="#4a1020" stroke-width="1"/>
<circle cx="173.03" cy="467.24" r="1.95" fill="#8a2a40" stroke="#4a1020" stroke-width="1"/>
<circle cx="184.76" cy="468.50" r="1.95" fill="#8a2a40" stroke="#4a1020" stroke-width="1"/>
<circle cx="196.49" cy="468.50" r="1.95" fill="#8a2a40" stroke="#4a1020" stroke-width="1"/>
<line x1="132.75" y1="347.50" x2="140.75" y2="347.50" stroke="#80b868" stroke-width="1.3" />
<rect x="134.85" y="345.60" width="3.80" height="3.80" fill="#78b85a" stroke="#3a6a2a" stroke-width="1"/>
<line x1="132.75" y1="362.50" x2="140.75" y2="362.50" stroke="#e8a050" stroke-width="1.2" />
<polygon points="136.75,360.00 139.25,362.50 136.75,365.00 134.25,362.50" fill="#eab070" stroke="#b07030" stroke-width="1"/>
<line x1="132.75" y1="377.50" x2="140.75" y2="377.50" stroke="#7a1a30" stroke-width="1.4" />
<circle cx="136.75" cy="377.50" r="1.95" fill="#8a2a40" stroke="#4a1020" stroke-width="1"/>
<line x1="132.75" y1="392.50" x2="140.75" y2="392.50" stroke="#9aa8b0" stroke-width="1.3" />
<polygon points="134.45,390.66 139.05,390.66 136.75,394.57" fill="#b0b0d0" stroke="#404060" stroke-width="1"/>
<text transform="translate(144.35,351.60) scale(0.971,1)" font-size="10.3" font-weight="bold" fill="#111" stroke="#111" stroke-width="0.3" >Acn</text>
<text transform="translate(163.24,347.00) scale(1.000,1)" font-size="7.8" font-weight="bold" fill="#111" stroke="#111" stroke-width="0.3" >wt</text>
<text transform="translate(176.58,351.80) scale(1.001,1)" font-size="10.3" font-weight="bold" fill="#111" stroke="#111" stroke-width="0.3" >(169)</text>
<text transform="translate(144.35,366.60) scale(0.971,1)" font-size="10.3" font-weight="bold" fill="#111" stroke="#111" stroke-width="0.3" >Acn</text>
<text transform="translate(163.13,362.00) scale(1.019,1)" font-size="7.8" font-weight="bold" fill="#111" stroke="#111" stroke-width="0.3" >D527A</text>
<text transform="translate(190.33,366.80) scale(1.001,1)" font-size="10.3" font-weight="bold" fill="#111" stroke="#111" stroke-width="0.3" >(161)</text>
<text transform="translate(144.35,381.60) scale(0.971,1)" font-size="10.3" font-weight="bold" fill="#111" stroke="#111" stroke-width="0.3" >Acn</text>
<text transform="translate(163.42,377.00) scale(1.001,1)" font-size="7.8" font-weight="bold" fill="#111" stroke="#111" stroke-width="0.3" >S641,731D</text>
<text transform="translate(204.84,381.80) scale(0.990,1)" font-size="10.3" font-weight="bold" fill="#111" stroke="#111" stroke-width="0.3" >(346)</text>
<text transform="translate(144.35,396.60) scale(0.971,1)" font-size="10.3" font-weight="bold" fill="#111" stroke="#111" stroke-width="0.3" >Acn</text>
<text transform="translate(163.42,392.00) scale(0.998,1)" font-size="7.8" font-weight="bold" fill="#111" stroke="#111" stroke-width="0.3" >S641,731A</text>
<text transform="translate(204.84,396.80) scale(0.990,1)" font-size="10.3" font-weight="bold" fill="#111" stroke="#111" stroke-width="0.3" >(135)</text>
<polygon points="235.05,360.95 235.83,362.63 237.67,362.85 236.31,364.11 236.67,365.92 235.05,365.02 233.43,365.92 233.79,364.11 232.43,362.85 234.27,362.63" fill="#111" stroke="#111" stroke-width="0.35" stroke-linejoin="round"/>
<polygon points="241.25,360.95 242.03,362.63 243.87,362.85 242.51,364.11 242.87,365.92 241.25,365.02 239.63,365.92 239.99,364.11 238.63,362.85 240.47,362.63" fill="#111" stroke="#111" stroke-width="0.35" stroke-linejoin="round"/>
<polygon points="247.45,360.95 248.23,362.63 250.07,362.85 248.71,364.11 249.07,365.92 247.45,365.02 245.83,365.92 246.19,364.11 244.83,362.85 246.67,362.63" fill="#111" stroke="#111" stroke-width="0.35" stroke-linejoin="round"/>
<polygon points="235.05,376.15 235.83,377.83 237.67,378.05 236.31,379.31 236.67,381.12 235.05,380.22 233.43,381.12 233.79,379.31 232.43,378.05 234.27,377.83" fill="#111" stroke="#111" stroke-width="0.35" stroke-linejoin="round"/>
<polygon points="241.25,376.15 242.03,377.83 243.87,378.05 242.51,379.31 242.87,381.12 241.25,380.22 239.63,381.12 239.99,379.31 238.63,378.05 240.47,377.83" fill="#111" stroke="#111" stroke-width="0.35" stroke-linejoin="round"/>
<polygon points="247.45,376.15 248.23,377.83 250.07,378.05 248.71,379.31 249.07,381.12 247.45,380.22 245.83,381.12 246.19,379.31 244.83,378.05 246.67,377.83" fill="#111" stroke="#111" stroke-width="0.35" stroke-linejoin="round"/>
<text transform="translate(237.34,396.60) scale(1.000,1)" font-size="11.2" font-weight="bold" fill="#111" stroke="#111" stroke-width="0.3" >ns</text>
<text transform="translate(254.01,355.00) scale(1.000,1)" font-size="18" font-weight="bold" fill="#000" stroke="#000" stroke-width="0.3" >G</text>
<text transform="translate(276.70,451.43) rotate(-90) scale(1.019,1)" font-size="10.3" font-weight="bold" fill="#111" stroke="#111" stroke-width="0.3">Percent Survival</text>
<line x1="297.60" y1="346.00" x2="297.60" y2="469.70" stroke="#000" stroke-width="1.5" />
<line x1="296.90" y1="469.00" x2="448.80" y2="469.00" stroke="#000" stroke-width="1.5" />
<line x1="294.20" y1="469.00" x2="297.60" y2="469.00" stroke="#000" stroke-width="1.3" />
<line x1="294.20" y1="444.46" x2="297.60" y2="444.46" stroke="#000" stroke-width="1.3" />
<line x1="294.20" y1="419.92" x2="297.60" y2="419.92" stroke="#000" stroke-width="1.3" />
<line x1="294.20" y1="395.38" x2="297.60" y2="395.38" stroke="#000" stroke-width="1.3" />
<line x1="294.20" y1="370.84" x2="297.60" y2="370.84" stroke="#000" stroke-width="1.3" />
<line x1="294.20" y1="346.30" x2="297.60" y2="346.30" stroke="#000" stroke-width="1.3" />
<text transform="translate(281.61,349.60) scale(0.850,1)" font-size="9.8" font-weight="bold" fill="#111" stroke="#111" stroke-width="0.3" >100</text>
<text transform="translate(283.91,374.14) scale(1.000,1)" font-size="9.8" font-weight="bold" fill="#111" stroke="#111" stroke-width="0.3" >80</text>
<text transform="translate(283.91,398.68) scale(1.000,1)" font-size="9.8" font-weight="bold" fill="#111" stroke="#111" stroke-width="0.3" >60</text>
<text transform="translate(283.91,423.22) scale(1.000,1)" font-size="9.8" font-weight="bold" fill="#111" stroke="#111" stroke-width="0.3" >40</text>
<text transform="translate(283.91,447.76) scale(1.000,1)" font-size="9.8" font-weight="bold" fill="#111" stroke="#111" stroke-width="0.3" >20</text>
<text transform="translate(289.35,472.30) scale(1.000,1)" font-size="9.8" font-weight="bold" fill="#111" stroke="#111" stroke-width="0.3" >0</text>
<line x1="298.00" y1="469.00" x2="298.00" y2="472.20" stroke="#000" stroke-width="1.3" />
<text transform="translate(295.28,479.38) scale(1.000,1)" font-size="9.8" font-weight="bold" fill="#111" stroke="#111" stroke-width="0.3">0</text>
<line x1="335.75" y1="469.00" x2="335.75" y2="472.20" stroke="#000" stroke-width="1.3" />
<text transform="translate(330.34,479.38) scale(1.000,1)" font-size="9.8" font-weight="bold" fill="#111" stroke="#111" stroke-width="0.3">20</text>
<line x1="373.50" y1="469.00" x2="373.50" y2="472.20" stroke="#000" stroke-width="1.3" />
<text transform="translate(368.18,479.38) scale(1.000,1)" font-size="9.8" font-weight="bold" fill="#111" stroke="#111" stroke-width="0.3">40</text>
<line x1="411.25" y1="469.00" x2="411.25" y2="472.20" stroke="#000" stroke-width="1.3" />
<text transform="translate(405.84,479.38) scale(1.000,1)" font-size="9.8" font-weight="bold" fill="#111" stroke="#111" stroke-width="0.3">60</text>
<line x1="449.00" y1="469.00" x2="449.00" y2="472.20" stroke="#000" stroke-width="1.3" />
<text transform="translate(443.61,479.38) scale(1.000,1)" font-size="9.8" font-weight="bold" fill="#111" stroke="#111" stroke-width="0.3">80</text>
<text transform="translate(347.85,491.00) scale(1.005,1)" font-size="10.3" font-weight="bold" fill="#111" stroke="#111" stroke-width="0.3" >Time (d)</text>
<polyline points="298.00,346.30 303.00,347.20 309.00,349.20 315.30,351.00 321.10,353.80 336.00,355.60 343.60,359.60 345.40,363.00 347.90,364.20 350.90,367.90 354.50,374.50 358.80,384.80 363.00,392.70 366.00,400.00 370.30,412.70 374.40,416.90 383.10,426.90 388.10,436.90 393.80,443.10 399.40,451.30 402.50,453.80 406.30,460.00 411.30,467.50 413.50,469.00" fill="none" stroke="#9aaab0" stroke-width="1.2" stroke-linejoin="round" stroke-linecap="round" />
<polyline points="298.00,346.30 303.00,347.00 309.00,348.50 315.00,349.00 321.00,350.00 328.60,351.00 336.00,355.60 343.60,356.70 351.50,364.80 354.50,374.50 358.20,378.80 362.40,387.20 367.10,399.60 370.30,408.40 374.50,416.30 379.40,421.90 384.40,429.00 391.30,440.60 396.30,447.50 402.50,461.30 408.10,464.40 413.10,468.60" fill="none" stroke="#78a860" stroke-width="1.3" stroke-linejoin="round" stroke-linecap="round" />
<polyline points="298.00,346.30 309.00,347.50 321.00,348.00 336.00,350.00 347.60,351.50 355.70,356.00 367.10,361.50 379.60,368.80 383.50,376.50 387.30,383.30 391.20,390.00 395.50,397.40 400.80,405.90 406.00,414.30 410.30,423.80 413.50,433.40 417.70,444.00 421.90,453.50 425.10,458.80 429.30,464.00 433.60,467.20 436.70,469.00" fill="none" stroke="#e8a050" stroke-width="1.2" stroke-linejoin="round" stroke-linecap="round" />
<polyline points="298.00,346.30 303.00,347.00 309.00,348.00 321.00,348.30 336.00,350.20 347.60,351.50 351.00,352.70 355.70,357.30 359.40,361.20 366.20,367.00 370.00,369.80 373.80,374.60 379.60,380.40 383.50,392.00 389.10,401.60 392.30,407.00 395.50,414.30 398.70,421.70 402.90,430.20 406.00,435.50 410.30,441.80 414.50,446.00 421.90,453.50 425.10,458.80 429.30,464.00 433.60,467.20 436.70,469.00" fill="none" stroke="#7a1a30" stroke-width="1.3" stroke-linejoin="round" stroke-linecap="round" />
<rect x="301.55" y="345.55" width="2.90" height="2.90" fill="#c8e0b8" stroke="#3a5a2a" stroke-width="0.9"/>
<rect x="307.55" y="347.05" width="2.90" height="2.90" fill="#c8e0b8" stroke="#3a5a2a" stroke-width="0.9"/>
<rect x="313.55" y="347.55" width="2.90" height="2.90" fill="#c8e0b8" stroke="#3a5a2a" stroke-width="0.9"/>
<rect x="319.55" y="348.55" width="2.90" height="2.90" fill="#c8e0b8" stroke="#3a5a2a" stroke-width="0.9"/>
<rect x="327.15" y="349.55" width="2.90" height="2.90" fill="#c8e0b8" stroke="#3a5a2a" stroke-width="0.9"/>
<rect x="334.55" y="354.15" width="2.90" height="2.90" fill="#c8e0b8" stroke="#3a5a2a" stroke-width="0.9"/>
<rect x="342.15" y="355.25" width="2.90" height="2.90" fill="#c8e0b8" stroke="#3a5a2a" stroke-width="0.9"/>
<rect x="350.05" y="363.35" width="2.90" height="2.90" fill="#c8e0b8" stroke="#3a5a2a" stroke-width="0.9"/>
<rect x="353.05" y="373.05" width="2.90" height="2.90" fill="#c8e0b8" stroke="#3a5a2a" stroke-width="0.9"/>
<rect x="356.75" y="377.35" width="2.90" height="2.90" fill="#c8e0b8" stroke="#3a5a2a" stroke-width="0.9"/>
<rect x="360.95" y="385.75" width="2.90" height="2.90" fill="#c8e0b8" stroke="#3a5a2a" stroke-width="0.9"/>
<rect x="365.65" y="398.15" width="2.90" height="2.90" fill="#c8e0b8" stroke="#3a5a2a" stroke-width="0.9"/>
<rect x="368.85" y="406.95" width="2.90" height="2.90" fill="#c8e0b8" stroke="#3a5a2a" stroke-width="0.9"/>
<rect x="373.05" y="414.85" width="2.90" height="2.90" fill="#c8e0b8" stroke="#3a5a2a" stroke-width="0.9"/>
<rect x="377.95" y="420.45" width="2.90" height="2.90" fill="#c8e0b8" stroke="#3a5a2a" stroke-width="0.9"/>
<rect x="382.95" y="427.55" width="2.90" height="2.90" fill="#c8e0b8" stroke="#3a5a2a" stroke-width="0.9"/>
<rect x="389.85" y="439.15" width="2.90" height="2.90" fill="#c8e0b8" stroke="#3a5a2a" stroke-width="0.9"/>
<rect x="394.85" y="446.05" width="2.90" height="2.90" fill="#c8e0b8" stroke="#3a5a2a" stroke-width="0.9"/>
<rect x="401.05" y="459.85" width="2.90" height="2.90" fill="#c8e0b8" stroke="#3a5a2a" stroke-width="0.9"/>
<rect x="406.65" y="462.95" width="2.90" height="2.90" fill="#c8e0b8" stroke="#3a5a2a" stroke-width="0.9"/>
<rect x="411.65" y="467.15" width="2.90" height="2.90" fill="#c8e0b8" stroke="#3a5a2a" stroke-width="0.9"/>
<polygon points="301.20,345.80 304.80,345.80 303.00,349.00" fill="#dde4e8" stroke="#2a3a40" stroke-width="0.9"/>
<polygon points="307.20,347.80 310.80,347.80 309.00,351.00" fill="#dde4e8" stroke="#2a3a40" stroke-width="0.9"/>
<polygon points="313.50,349.60 317.10,349.60 315.30,352.80" fill="#dde4e8" stroke="#2a3a40" stroke-width="0.9"/>
<polygon points="319.30,352.40 322.90,352.40 321.10,355.60" fill="#dde4e8" stroke="#2a3a40" stroke-width="0.9"/>
<polygon points="334.20,354.20 337.80,354.20 336.00,357.40" fill="#dde4e8" stroke="#2a3a40" stroke-width="0.9"/>
<polygon points="341.80,358.20 345.40,358.20 343.60,361.40" fill="#dde4e8" stroke="#2a3a40" stroke-width="0.9"/>
<polygon points="343.60,361.60 347.20,361.60 345.40,364.80" fill="#dde4e8" stroke="#2a3a40" stroke-width="0.9"/>
<polygon points="346.10,362.80 349.70,362.80 347.90,366.00" fill="#dde4e8" stroke="#2a3a40" stroke-width="0.9"/>
<polygon points="349.10,366.50 352.70,366.50 350.90,369.70" fill="#dde4e8" stroke="#2a3a40" stroke-width="0.9"/>
<polygon points="352.70,373.10 356.30,373.10 354.50,376.30" fill="#dde4e8" stroke="#2a3a40" stroke-width="0.9"/>
<polygon points="357.00,383.40 360.60,383.40 358.80,386.60" fill="#dde4e8" stroke="#2a3a40" stroke-width="0.9"/>
<polygon points="361.20,391.30 364.80,391.30 363.00,394.50" fill="#dde4e8" stroke="#2a3a40" stroke-width="0.9"/>
<polygon points="364.20,398.60 367.80,398.60 366.00,401.80" fill="#dde4e8" stroke="#2a3a40" stroke-width="0.9"/>
<polygon points="368.50,411.30 372.10,411.30 370.30,414.50" fill="#dde4e8" stroke="#2a3a40" stroke-width="0.9"/>
<polygon points="372.60,415.50 376.20,415.50 374.40,418.70" fill="#dde4e8" stroke="#2a3a40" stroke-width="0.9"/>
<polygon points="381.30,425.50 384.90,425.50 383.10,428.70" fill="#dde4e8" stroke="#2a3a40" stroke-width="0.9"/>
<polygon points="386.30,435.50 389.90,435.50 388.10,438.70" fill="#dde4e8" stroke="#2a3a40" stroke-width="0.9"/>
<polygon points="392.00,441.70 395.60,441.70 393.80,444.90" fill="#dde4e8" stroke="#2a3a40" stroke-width="0.9"/>
<polygon points="397.60,449.90 401.20,449.90 399.40,453.10" fill="#dde4e8" stroke="#2a3a40" stroke-width="0.9"/>
<polygon points="400.70,452.40 404.30,452.40 402.50,455.60" fill="#dde4e8" stroke="#2a3a40" stroke-width="0.9"/>
<polygon points="404.50,458.60 408.10,458.60 406.30,461.80" fill="#dde4e8" stroke="#2a3a40" stroke-width="0.9"/>
<polygon points="409.50,466.10 413.10,466.10 411.30,469.30" fill="#dde4e8" stroke="#2a3a40" stroke-width="0.9"/>
<polygon points="411.70,467.60 415.30,467.60 413.50,470.80" fill="#dde4e8" stroke="#2a3a40" stroke-width="0.9"/>
<polygon points="309.00,345.60 310.90,347.50 309.00,349.40 307.10,347.50" fill="#f8e0c0" stroke="#8a5a20" stroke-width="0.9"/>
<polygon points="321.00,346.10 322.90,348.00 321.00,349.90 319.10,348.00" fill="#f8e0c0" stroke="#8a5a20" stroke-width="0.9"/>
<polygon points="336.00,348.10 337.90,350.00 336.00,351.90 334.10,350.00" fill="#f8e0c0" stroke="#8a5a20" stroke-width="0.9"/>
<polygon points="347.60,349.60 349.50,351.50 347.60,353.40 345.70,351.50" fill="#f8e0c0" stroke="#8a5a20" stroke-width="0.9"/>
<polygon points="355.70,354.10 357.60,356.00 355.70,357.90 353.80,356.00" fill="#f8e0c0" stroke="#8a5a20" stroke-width="0.9"/>
<polygon points="367.10,359.60 369.00,361.50 367.10,363.40 365.20,361.50" fill="#f8e0c0" stroke="#8a5a20" stroke-width="0.9"/>
<polygon points="379.60,366.90 381.50,368.80 379.60,370.70 377.70,368.80" fill="#f8e0c0" stroke="#8a5a20" stroke-width="0.9"/>
<polygon points="383.50,374.60 385.40,376.50 383.50,378.40 381.60,376.50" fill="#f8e0c0" stroke="#8a5a20" stroke-width="0.9"/>
<polygon points="387.30,381.40 389.20,383.30 387.30,385.20 385.40,383.30" fill="#f8e0c0" stroke="#8a5a20" stroke-width="0.9"/>
<polygon points="391.20,388.10 393.10,390.00 391.20,391.90 389.30,390.00" fill="#f8e0c0" stroke="#8a5a20" stroke-width="0.9"/>
<polygon points="395.50,395.50 397.40,397.40 395.50,399.30 393.60,397.40" fill="#f8e0c0" stroke="#8a5a20" stroke-width="0.9"/>
<polygon points="400.80,404.00 402.70,405.90 400.80,407.80 398.90,405.90" fill="#f8e0c0" stroke="#8a5a20" stroke-width="0.9"/>
<polygon points="406.00,412.40 407.90,414.30 406.00,416.20 404.10,414.30" fill="#f8e0c0" stroke="#8a5a20" stroke-width="0.9"/>
<polygon points="410.30,421.90 412.20,423.80 410.30,425.70 408.40,423.80" fill="#f8e0c0" stroke="#8a5a20" stroke-width="0.9"/>
<polygon points="413.50,431.50 415.40,433.40 413.50,435.30 411.60,433.40" fill="#f8e0c0" stroke="#8a5a20" stroke-width="0.9"/>
<polygon points="417.70,442.10 419.60,444.00 417.70,445.90 415.80,444.00" fill="#f8e0c0" stroke="#8a5a20" stroke-width="0.9"/>
<polygon points="421.90,451.60 423.80,453.50 421.90,455.40 420.00,453.50" fill="#f8e0c0" stroke="#8a5a20" stroke-width="0.9"/>
<polygon points="425.10,456.90 427.00,458.80 425.10,460.70 423.20,458.80" fill="#f8e0c0" stroke="#8a5a20" stroke-width="0.9"/>
<polygon points="429.30,462.10 431.20,464.00 429.30,465.90 427.40,464.00" fill="#f8e0c0" stroke="#8a5a20" stroke-width="0.9"/>
<polygon points="433.60,465.30 435.50,467.20 433.60,469.10 431.70,467.20" fill="#f8e0c0" stroke="#8a5a20" stroke-width="0.9"/>
<polygon points="436.70,467.10 438.60,469.00 436.70,470.90 434.80,469.00" fill="#f8e0c0" stroke="#8a5a20" stroke-width="0.9"/>
<circle cx="303.00" cy="347.00" r="1.5" fill="#b07080" stroke="#4a1020" stroke-width="0.9"/>
<circle cx="309.00" cy="348.00" r="1.5" fill="#b07080" stroke="#4a1020" stroke-width="0.9"/>
<circle cx="321.00" cy="348.30" r="1.5" fill="#b07080" stroke="#4a1020" stroke-width="0.9"/>
<circle cx="336.00" cy="350.20" r="1.5" fill="#b07080" stroke="#4a1020" stroke-width="0.9"/>
<circle cx="347.60" cy="351.50" r="1.5" fill="#b07080" stroke="#4a1020" stroke-width="0.9"/>
<circle cx="351.00" cy="352.70" r="1.5" fill="#b07080" stroke="#4a1020" stroke-width="0.9"/>
<circle cx="355.70" cy="357.30" r="1.5" fill="#b07080" stroke="#4a1020" stroke-width="0.9"/>
<circle cx="359.40" cy="361.20" r="1.5" fill="#b07080" stroke="#4a1020" stroke-width="0.9"/>
<circle cx="366.20" cy="367.00" r="1.5" fill="#b07080" stroke="#4a1020" stroke-width="0.9"/>
<circle cx="370.00" cy="369.80" r="1.5" fill="#b07080" stroke="#4a1020" stroke-width="0.9"/>
<circle cx="373.80" cy="374.60" r="1.5" fill="#b07080" stroke="#4a1020" stroke-width="0.9"/>
<circle cx="379.60" cy="380.40" r="1.5" fill="#b07080" stroke="#4a1020" stroke-width="0.9"/>
<circle cx="383.50" cy="392.00" r="1.5" fill="#b07080" stroke="#4a1020" stroke-width="0.9"/>
<circle cx="389.10" cy="401.60" r="1.5" fill="#b07080" stroke="#4a1020" stroke-width="0.9"/>
<circle cx="392.30" cy="407.00" r="1.5" fill="#b07080" stroke="#4a1020" stroke-width="0.9"/>
<circle cx="395.50" cy="414.30" r="1.5" fill="#b07080" stroke="#4a1020" stroke-width="0.9"/>
<circle cx="398.70" cy="421.70" r="1.5" fill="#b07080" stroke="#4a1020" stroke-width="0.9"/>
<circle cx="402.90" cy="430.20" r="1.5" fill="#b07080" stroke="#4a1020" stroke-width="0.9"/>
<circle cx="406.00" cy="435.50" r="1.5" fill="#b07080" stroke="#4a1020" stroke-width="0.9"/>
<circle cx="410.30" cy="441.80" r="1.5" fill="#b07080" stroke="#4a1020" stroke-width="0.9"/>
<circle cx="414.50" cy="446.00" r="1.5" fill="#b07080" stroke="#4a1020" stroke-width="0.9"/>
<circle cx="421.90" cy="453.50" r="1.5" fill="#b07080" stroke="#4a1020" stroke-width="0.9"/>
<circle cx="425.10" cy="458.80" r="1.5" fill="#b07080" stroke="#4a1020" stroke-width="0.9"/>
<circle cx="429.30" cy="464.00" r="1.5" fill="#b07080" stroke="#4a1020" stroke-width="0.9"/>
<circle cx="433.60" cy="467.20" r="1.5" fill="#b07080" stroke="#4a1020" stroke-width="0.9"/>
<circle cx="436.70" cy="469.00" r="1.5" fill="#b07080" stroke="#4a1020" stroke-width="0.9"/>
<line x1="405.20" y1="357.00" x2="413.20" y2="357.00" stroke="#78a860" stroke-width="1.2" />
<rect x="407.75" y="355.55" width="2.90" height="2.90" fill="#c8e0b8" stroke="#3a5a2a" stroke-width="0.9"/>
<line x1="405.20" y1="372.20" x2="413.20" y2="372.20" stroke="#e8a050" stroke-width="1.2" />
<polygon points="409.20,370.30 411.10,372.20 409.20,374.10 407.30,372.20" fill="#f8e0c0" stroke="#8a5a20" stroke-width="0.9"/>
<line x1="405.20" y1="386.50" x2="413.20" y2="386.50" stroke="#7a1a30" stroke-width="1.2" />
<circle cx="409.20" cy="386.50" r="1.5" fill="#b07080" stroke="#4a1020" stroke-width="0.9"/>
<line x1="405.20" y1="400.80" x2="413.20" y2="400.80" stroke="#8aa0a8" stroke-width="1.2" />
<polygon points="407.40,399.40 411.00,399.40 409.20,402.60" fill="#dde4e8" stroke="#2a3a40" stroke-width="0.9"/>
<text transform="translate(417.40,361.00) scale(1.006,1)" font-size="9.8" font-weight="bold" fill="#111" stroke="#111" stroke-width="0.3" >Acn</text>
<text transform="translate(435.80,356.70) scale(1.000,1)" font-size="7.1" font-weight="bold" fill="#111" stroke="#111" stroke-width="0.3" >wt</text>
<text transform="translate(448.38,361.20) scale(0.986,1)" font-size="9.6" font-weight="bold" fill="#111" stroke="#111" stroke-width="0.3" >(74)</text>
<text transform="translate(417.40,376.00) scale(1.006,1)" font-size="9.8" font-weight="bold" fill="#111" stroke="#111" stroke-width="0.3" >Acn</text>
<text transform="translate(435.90,371.70) scale(0.979,1)" font-size="7.1" font-weight="bold" fill="#111" stroke="#111" stroke-width="0.3" >D527A</text>
<text transform="translate(461.07,376.20) scale(0.998,1)" font-size="9.6" font-weight="bold" fill="#111" stroke="#111" stroke-width="0.3" >(79)</text>
<text transform="translate(417.40,390.50) scale(1.006,1)" font-size="9.8" font-weight="bold" fill="#111" stroke="#111" stroke-width="0.3" >Acn</text>
<text transform="translate(436.14,386.20) scale(1.008,1)" font-size="7.1" font-weight="bold" fill="#111" stroke="#111" stroke-width="0.3" >S641,731D</text>
<text transform="translate(474.16,390.70) scale(1.029,1)" font-size="9.6" font-weight="bold" fill="#111" stroke="#111" stroke-width="0.3" >(90)</text>
<text transform="translate(417.40,404.30) scale(1.006,1)" font-size="9.8" font-weight="bold" fill="#111" stroke="#111" stroke-width="0.3" >Acn</text>
<text transform="translate(436.14,400.00) scale(1.005,1)" font-size="7.1" font-weight="bold" fill="#111" stroke="#111" stroke-width="0.3" >S641,731A</text>
<text transform="translate(474.17,404.50) scale(1.002,1)" font-size="9.6" font-weight="bold" fill="#111" stroke="#111" stroke-width="0.3" >(101)</text>
<polygon points="497.40,369.00 498.16,370.65 499.97,370.87 498.63,372.10 498.99,373.88 497.40,373.00 495.81,373.88 496.17,372.10 494.83,370.87 496.64,370.65" fill="#111" stroke="#111" stroke-width="0.35" stroke-linejoin="round"/>
<polygon points="503.30,369.00 504.06,370.65 505.87,370.87 504.53,372.10 504.89,373.88 503.30,373.00 501.71,373.88 502.07,372.10 500.73,370.87 502.54,370.65" fill="#111" stroke="#111" stroke-width="0.35" stroke-linejoin="round"/>
<polygon points="509.30,369.00 510.06,370.65 511.87,370.87 510.53,372.10 510.89,373.88 509.30,373.00 507.71,373.88 508.07,372.10 506.73,370.87 508.54,370.65" fill="#111" stroke="#111" stroke-width="0.35" stroke-linejoin="round"/>
<polygon points="497.40,384.00 498.16,385.65 499.97,385.87 498.63,387.10 498.99,388.88 497.40,388.00 495.81,388.88 496.17,387.10 494.83,385.87 496.64,385.65" fill="#111" stroke="#111" stroke-width="0.35" stroke-linejoin="round"/>
<polygon points="503.30,384.00 504.06,385.65 505.87,385.87 504.53,387.10 504.89,388.88 503.30,388.00 501.71,388.88 502.07,387.10 500.73,385.87 502.54,385.65" fill="#111" stroke="#111" stroke-width="0.35" stroke-linejoin="round"/>
<polygon points="509.30,384.00 510.06,385.65 511.87,385.87 510.53,387.10 510.89,388.88 509.30,388.00 507.71,388.88 508.07,387.10 506.73,385.87 508.54,385.65" fill="#111" stroke="#111" stroke-width="0.35" stroke-linejoin="round"/>
<text transform="translate(499.19,404.60) scale(1.000,1)" font-size="11.2" font-weight="bold" fill="#111" stroke="#111" stroke-width="0.3" >ns</text>
</svg></body></html>
